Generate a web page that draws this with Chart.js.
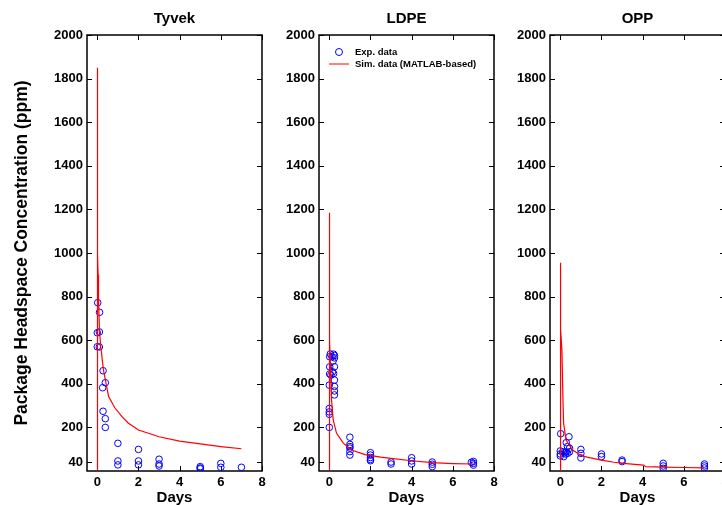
<!DOCTYPE html>
<html>
<head>
<meta charset="utf-8">
<script src="https://cdn.jsdelivr.net/npm/chart.js@4/dist/chart.umd.min.js"></script>
<style>
  body { margin: 0; width: 722px; height: 505px; overflow: hidden; background: #fff; position: relative; }
  canvas { position: absolute; top: 0; }
</style>
</head>
<body>
<canvas id="tyvek" width="270" height="505" style="left:0px"></canvas>
<canvas id="ldpe" width="270" height="505" style="left:232px"></canvas>
<canvas id="opp" width="270" height="505" style="left:463px"></canvas>
<script>
// tick labels
const yTicks = [40, 200, 400, 600, 800, 1000, 1200, 1400, 1600, 1800, 2000];
const xTicks = [0, 2, 4, 6, 8];
const panelTitles = ["Tyvek", "LDPE", "OPP"];
const legendLabels = ["Exp. data", "Sim. data (MATLAB-based)"];

// Tyvek
const tyvekExpDays = [0.02, 0.11, 0, 0.1, 0, 0.1, 0.28, 0.39, 0.26, 0.28, 0.39, 0.39, 1, 1, 1, 2, 2, 2, 3, 3, 3, 5, 5, 5, 6, 6, 7];
const tyvekExpConc = [772, 728, 634, 638, 570, 569, 460, 405, 382, 274, 240, 200, 127, 46, 28, 99, 46, 28, 54, 32, 23, 20, 14, 10, 35, 17, 17];
const tyvekSimDays = [0, 0, 0.01, 0.02, 0.04, 0.06, 0.11, 0.17, 0.3, 0.55, 0.85, 1.2, 1.5, 2, 3, 4, 5, 6, 7];
const tyvekSimConc = [0, 1850, 1300, 1000, 900, 790, 635, 570, 463, 341, 290, 249, 220, 188, 157, 137, 124, 112, 102];

// LDPE
const ldpeExpDays = [0, 0, 0, 0, 0, 0.02, 0.02, 0.02, 0.05, 0.13, 0.21, 0.25, 0.25, 0.18, 0.25, 0.21, 0.25, 0.25, 0.25, 0.25, 0.16, 0.08,
  1, 1, 1, 1, 1, 1, 2, 2, 2, 2, 2, 3, 3, 4, 4, 4, 5, 5, 5, 7, 7, 7, 6.9];
const ldpeExpConc = [394, 287, 271, 260, 200, 524, 478, 445, 537, 524, 536, 530, 519, 504, 478, 447, 417, 388, 367, 349, 455, 440,
  155, 122, 112, 105, 89, 73, 84, 73, 62, 53, 47, 41, 32, 61, 46, 32, 41, 31, 20, 44, 35, 27, 40];
const ldpeSimDays = [0, 0, 0.005, 0.01, 0.03, 0.07, 0.11, 0.19, 0.35, 0.68, 1.08, 1.73, 2.5, 3, 4, 5, 6, 7];
const ldpeSimConc = [0, 1185, 850, 700, 601, 450, 326, 234, 174, 128, 96, 75, 64, 58, 47, 38, 34, 32];

// OPP
const oppExpDays = [0.02, 0.42, 0.29, 0.45, 0.35, 0, 0, 0, 0.12, 0.2, 0.29, 0.25, 0.35, 0.45, 0.17, 1, 1, 1, 2, 2, 3, 3, 5, 5, 5, 7, 7, 7];
const oppExpConc = [171, 157, 130, 104, 112, 92, 78, 69, 88, 84, 88, 78, 81, 88, 66, 99, 81, 60, 78, 66, 50, 43, 35, 23, 12, 32, 23, 14];
const oppSimDays = [0, 0, 0.01, 0.03, 0.08, 0.13, 0.16, 0.28, 0.6, 1, 1.3, 2, 2.6, 3.2, 3.9, 4.05, 4.15, 5, 6, 7];
const oppSimConc = [0, 955, 800, 650, 555, 326, 220, 142, 96, 72, 64, 50, 40, 34, 28, 27, 20, 18, 16, 14];

const FONT = "Arial, 'Liberation Sans', sans-serif";

function toPoints(xs, ys) {
  return xs.map((x, i) => ({ x: x, y: ys[i] }));
}

// box around the plot with inward ticks on all four sides
const framePlugin = {
  id: 'frame',
  beforeDatasetsDraw(chart) {
    const { ctx, chartArea: a, scales } = chart;
    ctx.save();
    ctx.strokeStyle = '#000';
    ctx.lineWidth = 1;
    ctx.beginPath();
    yTicks.forEach(v => {
      const y = Math.round(scales.y.getPixelForValue(v)) + 0.5;
      ctx.moveTo(a.left, y); ctx.lineTo(a.left + 5, y);
      ctx.moveTo(a.right, y); ctx.lineTo(a.right - 5, y);
    });
    xTicks.forEach(v => {
      const x = Math.round(scales.x.getPixelForValue(v)) + 0.5;
      ctx.moveTo(x, a.bottom); ctx.lineTo(x, a.bottom - 5);
      ctx.moveTo(x, a.top); ctx.lineTo(x, a.top + 5);
    });
    ctx.stroke();
    ctx.lineWidth = 1.5;
    ctx.strokeRect(a.left, a.top, a.right - a.left, a.bottom - a.top);
    ctx.restore();
  }
};

// legend drawn inside the plot area (LDPE panel only)
const insideLegend = {
  id: 'insideLegend',
  afterDatasetsDraw(chart, args, opts) {
    if (!opts.show) return;
    const { ctx, chartArea: a } = chart;
    ctx.save();
    ctx.strokeStyle = 'blue';
    ctx.lineWidth = 1;
    ctx.beginPath();
    ctx.arc(a.left + 20, a.top + 17, 3.5, 0, Math.PI * 2);
    ctx.stroke();
    ctx.strokeStyle = 'red';
    ctx.beginPath();
    ctx.moveTo(a.left + 10, a.top + 29);
    ctx.lineTo(a.left + 30, a.top + 29);
    ctx.stroke();
    ctx.fillStyle = '#000';
    ctx.font = 'bold 9.5px ' + FONT;
    ctx.textBaseline = 'middle';
    ctx.fillText(legendLabels[0], a.left + 36, a.top + 17);
    ctx.fillText(legendLabels[1], a.left + 36, a.top + 29);
    ctx.restore();
  }
};

function makePanel(id, title, expDays, expConc, simDays, simConc, first, showLegend) {
  const ctx = document.getElementById(id).getContext('2d');
  return new Chart(ctx, {
    type: 'scatter',
    data: {
      datasets: [
        {
          label: legendLabels[1],
          data: toPoints(simDays, simConc),
          showLine: true,
          borderColor: 'red',
          borderWidth: 1.2,
          pointRadius: 0,
          tension: 0
        },
        {
          label: legendLabels[0],
          data: toPoints(expDays, expConc),
          borderColor: 'blue',
          backgroundColor: 'transparent',
          borderWidth: 1,
          pointRadius: 3.3
        }
      ]
    },
    options: {
      responsive: false,
      animation: false,
      layout: { padding: { top: 0, right: 8, bottom: 0, left: 0 } },
      scales: {
        x: {
          type: 'linear',
          min: -0.5,
          max: 8,
          afterBuildTicks: s => { s.ticks = xTicks.map(v => ({ value: v })); },
          afterFit: s => { s.height = 34; },
          grid: { display: false, drawTicks: false },
          border: { display: false },
          ticks: {
            padding: 4, color: '#000',
            font: { family: FONT, size: 13, weight: 'bold' },
            callback: v => String(v)
          },
          title: {
            display: true, text: 'Days', color: '#000',
            padding: { top: 0, bottom: 0 },
            font: { family: FONT, size: 15, weight: 'bold', lineHeight: 1 }
          }
        },
        y: {
          min: 0,
          max: 2000,
          afterBuildTicks: s => { s.ticks = yTicks.map(v => ({ value: v })); },
          afterFit: s => { s.width = 87; },
          grid: { display: false, drawTicks: false },
          border: { display: false },
          ticks: {
            padding: 4, color: '#000',
            font: { family: FONT, size: 13, weight: 'bold' },
            callback: v => String(v)
          },
          title: {
            display: first, text: 'Package Headspace Concentration (ppm)', color: '#000',
            padding: { top: 12, bottom: 0 },
            font: { family: FONT, size: 17.5, weight: 'bold' }
          }
        }
      },
      plugins: {
        legend: { display: false },
        tooltip: { enabled: false },
        title: {
          display: true, text: title, color: '#000', fullSize: false,
          padding: { top: 10, bottom: 7 },
          font: { family: FONT, size: 15, weight: 'bold', lineHeight: 1.2 }
        },
        insideLegend: { show: showLegend }
      }
    },
    plugins: [framePlugin, insideLegend]
  });
}

makePanel('tyvek', panelTitles[0], tyvekExpDays, tyvekExpConc, tyvekSimDays, tyvekSimConc, true, false);
makePanel('ldpe', panelTitles[1], ldpeExpDays, ldpeExpConc, ldpeSimDays, ldpeSimConc, false, true);
makePanel('opp', panelTitles[2], oppExpDays, oppExpConc, oppSimDays, oppSimConc, false, false);
</script>
</body>
</html>
